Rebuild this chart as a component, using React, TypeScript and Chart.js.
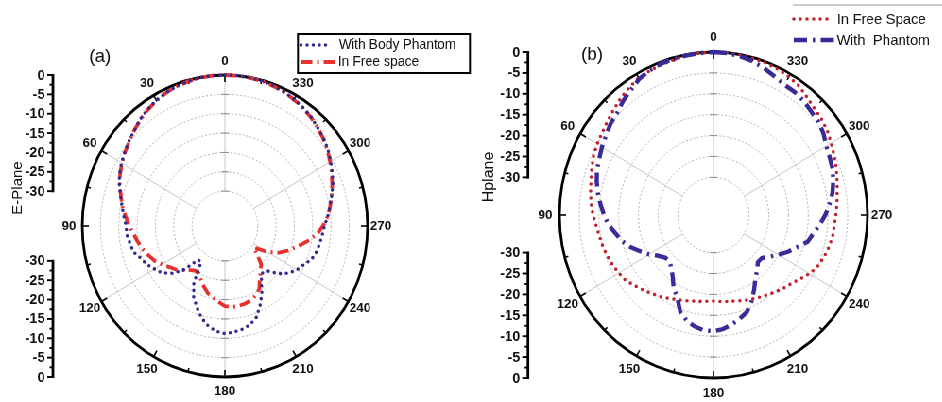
import React, { useEffect, useRef } from 'react';
import { Chart, registerables } from 'chart.js';

Chart.register(...registerables);

// ---------- data (angles counter-clockwise from top, dB) ----------
const ANGLES = [
  0, 5, 10, 15, 20, 25, 30, 35, 40, 45, 50, 55, 60, 65, 70, 75, 80, 85,
  90, 95, 100, 105, 110, 115, 120, 125, 130, 135, 140, 145, 150, 155, 160, 165, 170, 175,
  180, 185, 190, 195, 200, 205, 210, 215, 220, 225, 230, 235, 240, 245, 250, 255, 260, 265,
  270, 275, 280, 285, 290, 295, 300, 305, 310, 315, 320, 325, 330, 335, 340, 345, 350, 355,
];

const ANGLE_TICKS = [0, 30, 60, 90, 120, 150, 180, 210, 240, 270, 300, 330];
const SPOKE_ANGLES = [0, 60, 120, 180, 240, 300];
const GRID_VALUES = [-30, -25, -20, -15, -10, -5, 0];
const AXIS_TICKS = [0, -5, -10, -15, -20, -25, -30];
const R_MIN = -39;
const R_MAX = 0;

// (a) E-plane
const A_BODY = [
  0, 0, -0.1, -0.3, -0.6, -1.0, -1.5, -2.2, -3.0, -4.0, -4.8, -5.6, -6.4, -7.2, -8.3, -9.5, -10.5, -11.3,
  -12.0, -12.1, -12.7, -13.1, -14.6, -15.5, -16.8, -17.9, -20.0, -22.8, -27.6, -27.7, -22.0, -18.8, -16.6, -14.4, -12.8, -11.7,
  -11.2, -11.5, -11.9, -12.6, -13.9, -16.3, -18.8, -21.7, -23.1, -22.6, -19.8, -17.8, -16.3, -15.3, -13.8, -13.1, -12.7, -12.3,
  -11.8, -10.8, -9.8, -8.8, -7.6, -6.6, -5.6, -4.6, -3.8, -3.1, -2.3, -1.7, -1.2, -0.8, -0.4, -0.2, -0.1, 0,
];
const A_FREE = [
  0, 0, -0.1, -0.3, -0.6, -1.0, -1.6, -2.3, -3.1, -4.0, -4.9, -5.7, -6.5, -7.4, -8.4, -9.6, -10.6, -11.8,
  -12.9, -14.0, -14.9, -15.8, -16.8, -17.8, -19.2, -20.5, -21.5, -22.9, -24.1, -24.9, -24.8, -23.6, -22.3, -21.0, -20.2, -19.3,
  -18.3, -18.0, -18.0, -18.2, -18.5, -19.2, -20.2, -22.4, -23.8, -25.0, -27.5, -29.3, -25.6, -22.7, -20.5, -18.5, -16.2, -13.8,
  -12.2, -10.8, -9.8, -8.8, -7.8, -6.8, -5.8, -4.8, -3.9, -3.1, -2.4, -1.8, -1.3, -0.8, -0.5, -0.2, -0.1, 0,
];

// (b) H-plane
const B_FREE = [
  0, -0.1, -0.2, -0.5, -0.7, -0.9, -1.1, -1.8, -2.5, -3.3, -4.0, -4.6, -5.0, -5.5, -6.2, -6.9, -7.4, -7.9,
  -8.5, -9.2, -9.7, -10.0, -10.4, -10.8, -11.3, -11.8, -12.8, -13.7, -14.5, -15.2, -16.0, -16.7, -17.2, -17.7, -18.0, -18.3,
  -18.4, -18.2, -18.0, -17.7, -17.2, -16.7, -16.2, -15.6, -14.9, -14.1, -13.4, -12.3, -10.9, -9.9, -9.3, -8.8, -8.4, -8.3,
  -8.0, -7.6, -7.2, -6.6, -5.9, -5.3, -4.6, -3.8, -3.3, -2.9, -2.2, -1.3, -0.8, -0.5, -0.3, -0.2, -0.1, 0,
];
const B_BODY = [
  0, -0.1, -0.2, -0.3, -0.4, -0.8, -1.4, -2.5, -3.4, -4.5, -5.0, -5.8, -6.4, -7.1, -7.6, -8.4, -9.3, -10.3,
  -11.3, -12.3, -13.8, -15.0, -16.6, -18.5, -20.2, -22.0, -23.1, -23.3, -22.4, -21.0, -18.8, -17.3, -14.4, -12.8, -11.9, -11.3,
  -11.2, -11.6, -12.4, -13.3, -14.3, -16.2, -18.4, -20.5, -21.8, -23.1, -23.0, -21.6, -20.0, -18.2, -16.5, -14.3, -13.4, -12.0,
  -10.7, -9.5, -8.4, -7.6, -6.9, -6.5, -6.0, -5.0, -4.3, -4.0, -3.4, -3.1, -3.0, -2.4, -1.6, -0.9, -0.4, -0.1,
];

// ---------- helpers ----------
const N = ANGLES.length;
const STEP = 360 / N;
// radar goes clockwise; our angles go counter-clockwise
const RADAR_LABELS = ANGLES.map((_, i) => String(ANGLES[(N - i) % N]));
const toRadar = (vals: number[]) => vals.map((_, i) => vals[(N - i) % N]);
const idxOf = (angle: number) => (N - Math.round(angle / STEP)) % N;

const FONT = 'Arial, "Liberation Sans", Helvetica, sans-serif';

type LegendItem = { ds: number; x1: number; x2: number; tx: number; y: number };
type PanelCfg = {
  axisX: number;
  labelRight: number;
  title: { text: string; x: number; y: number };
  yTitle: { text: string; x: number; y: number; size: number };
  legend: {
    box?: [number, number, number, number];
    topLine?: [number, number, number];
    size: number;
    items: LegendItem[];
  };
  labelGap: number;
};

function makePlugin(cfg: PanelCfg) {
  return {
    id: 'polarExtras',
    beforeDatasetsDraw(chart: any) {
      const s = chart.scales.r;
      const ctx = chart.ctx as CanvasRenderingContext2D;
      ctx.save();
      // spokes from -30 ring to outer ring
      ctx.strokeStyle = '#b8b8b8';
      ctx.lineWidth = 0.8;
      ctx.setLineDash([]);
      for (const a of SPOKE_ANGLES) {
        const i = idxOf(a);
        const p1 = s.getPointPositionForValue(i, GRID_VALUES[0]);
        const p2 = s.getPointPositionForValue(i, R_MAX);
        ctx.beginPath();
        ctx.moveTo(p1.x, p1.y);
        ctx.lineTo(p2.x, p2.y);
        ctx.stroke();
      }
      // small tick marks on the vertical radial axis
      ctx.strokeStyle = '#8a8a8a';
      ctx.lineWidth = 1;
      for (const v of GRID_VALUES) {
        if (v === R_MAX) continue;
        const d = s.getDistanceFromCenterForValue(v);
        for (const sign of [-1, 1]) {
          const y = s.yCenter + sign * d;
          ctx.beginPath();
          ctx.moveTo(s.xCenter - 4, y);
          ctx.lineTo(s.xCenter + 4, y);
          ctx.stroke();
        }
      }
      // ticks on the outer ring every 15 degrees
      ctx.strokeStyle = '#000';
      ctx.lineWidth = 1.6;
      const R = s.getDistanceFromCenterForValue(R_MAX);
      for (const a of ANGLES) {
        if (a % 15 !== 0) continue;
        const len = a % 30 === 0 ? 7 : 4;
        const i = idxOf(a);
        const p1 = s.getPointPosition(i, R);
        const p2 = s.getPointPosition(i, R - len);
        ctx.beginPath();
        ctx.moveTo(p1.x, p1.y);
        ctx.lineTo(p2.x, p2.y);
        ctx.stroke();
      }
      ctx.restore();
    },
    afterDraw(chart: any) {
      const s = chart.scales.r;
      const ctx = chart.ctx as CanvasRenderingContext2D;
      ctx.save();
      ctx.fillStyle = '#111';
      // angle labels
      ctx.font = `bold 13.5px ${FONT}`;
      ctx.textAlign = 'center';
      ctx.textBaseline = 'middle';
      const R = s.getDistanceFromCenterForValue(R_MAX);
      for (const a of ANGLE_TICKS) {
        const p = s.getPointPosition(idxOf(a), R + cfg.labelGap);
        ctx.fillText(String(a), p.x, p.y);
      }
      // left dB axis (upper and lower halves)
      const yU = (v: number) => s.yCenter - s.getDistanceFromCenterForValue(v);
      const yL = (v: number) => s.yCenter + s.getDistanceFromCenterForValue(v);
      const lo = AXIS_TICKS[AXIS_TICKS.length - 1];
      ctx.strokeStyle = '#000';
      ctx.lineWidth = 2.8;
      ctx.beginPath();
      ctx.moveTo(cfg.axisX, yU(0) - 1);
      ctx.lineTo(cfg.axisX, yU(lo) + 1);
      ctx.moveTo(cfg.axisX, yL(lo) - 1);
      ctx.lineTo(cfg.axisX, yL(0) + 1);
      ctx.stroke();
      ctx.lineWidth = 1.9;
      ctx.textAlign = 'right';
      ctx.font = `bold 14.5px ${FONT}`;
      for (const v of AXIS_TICKS) {
        for (const y of [yU(v), yL(v)]) {
          ctx.beginPath();
          ctx.moveTo(cfg.axisX, y);
          ctx.lineTo(cfg.axisX - 6, y);
          ctx.stroke();
          ctx.fillText(String(v), cfg.labelRight, y + 0.5);
        }
        if (v > lo) {
          const mid = v - 2.5;
          for (const y of [yU(mid), yL(mid)]) {
            ctx.beginPath();
            ctx.moveTo(cfg.axisX, y);
            ctx.lineTo(cfg.axisX - 3.5, y);
            ctx.stroke();
          }
        }
      }
      // panel title
      ctx.font = `19px ${FONT}`;
      ctx.textAlign = 'center';
      ctx.fillText(cfg.title.text, cfg.title.x, cfg.title.y);
      // rotated axis title
      ctx.save();
      ctx.translate(cfg.yTitle.x, cfg.yTitle.y);
      ctx.rotate(-Math.PI / 2);
      ctx.font = `${cfg.yTitle.size}px ${FONT}`;
      ctx.fillText(cfg.yTitle.text, 0, 0);
      ctx.restore();
      // legend
      const lg = cfg.legend;
      if (lg.box) {
        ctx.strokeStyle = '#000';
        ctx.lineWidth = 2;
        ctx.setLineDash([]);
        ctx.strokeRect(lg.box[0], lg.box[1], lg.box[2], lg.box[3]);
      }
      if (lg.topLine) {
        ctx.strokeStyle = '#9a9a9a';
        ctx.lineWidth = 1.2;
        ctx.beginPath();
        ctx.moveTo(lg.topLine[0], lg.topLine[2]);
        ctx.lineTo(lg.topLine[1], lg.topLine[2]);
        ctx.stroke();
      }
      ctx.font = `${lg.size}px ${FONT}`;
      ctx.textAlign = 'left';
      for (const it of lg.items) {
        const ds = chart.data.datasets[it.ds];
        ctx.save();
        ctx.strokeStyle = ds.borderColor;
        ctx.lineWidth = ds.borderWidth;
        ctx.lineCap = ds.borderCapStyle || 'butt';
        ctx.setLineDash(ds.borderDash || []);
        ctx.beginPath();
        ctx.moveTo(it.x1, it.y);
        ctx.lineTo(it.x2, it.y);
        ctx.stroke();
        ctx.restore();
        ctx.fillText(ds.label, it.tx, it.y + 0.5);
      }
      ctx.restore();
    },
  };
}

type DsSpec = {
  label: string;
  values: number[];
  color: string;
  width: number;
  dash: number[];
  cap: CanvasLineCap;
};

function Panel(props: {
  left: number;
  width: number;
  padding: { left: number; right: number; top: number; bottom: number };
  datasets: DsSpec[];
  cfg: PanelCfg;
}) {
  const ref = useRef<HTMLCanvasElement>(null);
  useEffect(() => {
    const chart = new Chart(ref.current as HTMLCanvasElement, {
      type: 'radar',
      data: {
        labels: RADAR_LABELS,
        datasets: props.datasets.map((d) => ({
          label: d.label,
          data: toRadar(d.values),
          borderColor: d.color,
          backgroundColor: 'transparent',
          borderWidth: d.width,
          borderDash: d.dash,
          borderCapStyle: d.cap,
          borderJoinStyle: 'round',
          pointRadius: 0,
          pointHoverRadius: 0,
          fill: false,
          tension: 0,
        })) as any,
      },
      options: {
        responsive: false,
        maintainAspectRatio: false,
        animation: false,
        layout: { padding: props.padding },
        plugins: { legend: { display: false }, title: { display: false }, tooltip: { enabled: false } },
        events: [],
        scales: {
          r: {
            min: R_MIN,
            max: R_MAX,
            startAngle: 0,
            afterBuildTicks: (scale: any) => {
              scale.ticks = GRID_VALUES.map((v) => ({ value: v }));
            },
            ticks: { display: false, stepSize: 5 },
            pointLabels: { display: false },
            angleLines: { display: false },
            grid: {
              circular: true,
              color: (c: any) => (c.tick && c.tick.value === R_MAX ? '#000' : '#a0a0a0'),
              lineWidth: (c: any) => (c.tick && c.tick.value === R_MAX ? 2.8 : 0.8),
            },
            border: {
              dash: (c: any) => (c.tick && c.tick.value === R_MAX ? [] : [2, 2]),
            },
          } as any,
        },
      },
      plugins: [makePlugin(props.cfg)],
    });
    return () => chart.destroy();
  }, []);
  return (
    <canvas
      ref={ref}
      width={props.width}
      height={402}
      style={{ position: 'absolute', left: props.left, top: 0, width: props.width, height: 402 }}
    />
  );
}

const PANEL_A_DS: DsSpec[] = [
  { label: 'With Body Phantom', values: A_BODY, color: '#2f2b93', width: 3.6, dash: [0, 6.5], cap: 'round' },
  { label: 'In Free space', values: A_FREE, color: '#e6312d', width: 3.8, dash: [12, 5, 2, 5], cap: 'butt' },
];
const PANEL_B_DS: DsSpec[] = [
  { label: 'With  Phantom', values: B_BODY, color: '#3b2b98', width: 4.4, dash: [14, 6, 2.5, 6], cap: 'butt' },
  { label: 'In Free Space', values: B_FREE, color: '#c0222e', width: 3.6, dash: [0, 7], cap: 'round' },
];

const CFG_A: PanelCfg = {
  axisX: 56,
  labelRight: 47.5,
  title: { text: '(a)', x: 105.8, y: 57 },
  yTitle: { text: 'E-Plane', x: 19, y: 188, size: 15 },
  legend: {
    box: [315.3, 34, 182, 39],
    size: 14,
    items: [
      { ds: 0, x1: 318.5, x2: 351, tx: 358.7, y: 45 },
      { ds: 1, x1: 318.5, x2: 356.6, tx: 357.7, y: 62 },
    ],
  },
  labelGap: 14,
};
const CFG_B: PanelCfg = {
  axisX: 48.7,
  labelRight: 40.3,
  title: { text: '(b)', x: 116.5, y: 55 },
  yTitle: { text: 'Hplane', x: 7.5, y: 177, size: 16 },
  legend: {
    topLine: [329, 487, 5],
    size: 15,
    items: [
      { ds: 1, x1: 330, x2: 366.2, tx: 375.7, y: 19 },
      { ds: 0, x1: 330, x2: 373.6, tx: 375.5, y: 40 },
    ],
  },
  labelGap: 15,
};

export default function App() {
  return (
    <div
      style={{
        position: 'fixed',
        left: 0,
        top: 0,
        width: 997,
        height: 402,
        background: '#fff',
        transform: 'scaleX(0.945)',
        transformOrigin: '0 0',
      }}
    >
      <Panel
        left={0}
        width={510}
        padding={{ left: 87, right: 121, top: 75, bottom: 25 }}
        datasets={PANEL_A_DS}
        cfg={CFG_A}
      />
      <Panel
        left={510}
        width={487}
        padding={{ left: 82, right: 79, top: 52, bottom: 24 }}
        datasets={PANEL_B_DS}
        cfg={CFG_B}
      />
    </div>
  );
}
